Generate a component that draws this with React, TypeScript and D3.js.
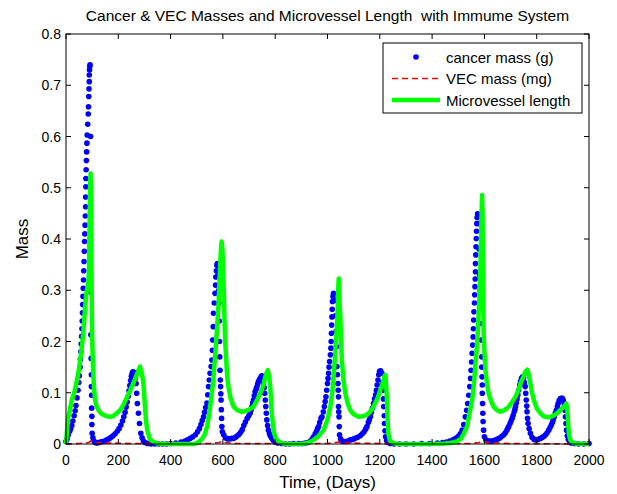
import { useEffect, useRef } from 'react';
import * as d3 from 'd3';

// [time (days), mass]
const cancerMass: [number, number][] = [
  [0, 0.005], [4, 0.01], [9, 0.018], [14, 0.025], [18, 0.03], [22, 0.036], [26, 0.045], [31, 0.055],
  [35, 0.065], [38, 0.075], [42, 0.09], [46, 0.105], [49, 0.12], [51, 0.133], [54, 0.15], [55, 0.165],
  [57, 0.18], [58, 0.195], [60, 0.21], [61, 0.225], [62, 0.24], [63, 0.256], [64, 0.272], [65, 0.288],
  [66, 0.304], [67, 0.32], [68, 0.338], [69, 0.356], [70, 0.376], [71, 0.395], [72, 0.41], [73, 0.427],
  [74, 0.445], [75, 0.463], [75, 0.482], [76, 0.502], [76, 0.518], [77, 0.535], [78, 0.553], [79, 0.57],
  [80, 0.587], [81, 0.603], [83, 0.624], [85, 0.644], [86, 0.658], [87, 0.678], [88, 0.693], [89, 0.707],
  [89, 0.72], [90, 0.73], [91, 0.737], [92, 0.74],
  [94, 0.6], [94, 0.5], [94, 0.4], [94.5, 0.297], [95, 0.213], [96, 0.167], [97, 0.135], [97, 0.112],
  [98, 0.095], [98, 0.07], [99, 0.054], [99, 0.038], [100, 0.021], [103, 0.012], [107, 0.006], [112, 0.003],
  [118, 0.002], [125, 0.003], [132, 0.004], [140, 0.005], [148, 0.006], [156, 0.008], [164, 0.01], [172, 0.013],
  [180, 0.016], [188, 0.02], [196, 0.025], [203, 0.03], [210, 0.037], [216, 0.045], [221, 0.053], [226, 0.062],
  [230, 0.072], [234, 0.082], [238, 0.093], [241, 0.104], [244, 0.114], [247, 0.124], [250, 0.132], [253, 0.138],
  [256, 0.141], [259, 0.14], [262, 0.138], [265, 0.128], [268, 0.118], [270, 0.099], [273, 0.079], [277, 0.06],
  [281, 0.04], [286, 0.021], [291, 0.012], [296, 0.006], [303, 0.003], [312, 0.001], [325, 0], [340, 0],
  [355, 0], [370, 0], [385, 0], [400, 0.001], [420, 0.002], [440, 0.004], [455, 0.006], [465, 0.008],
  [475, 0.011], [485, 0.014], [495, 0.018], [503, 0.024], [510, 0.03], [516, 0.038], [521, 0.046], [526, 0.053],
  [530, 0.062], [534, 0.071], [539, 0.08], [542, 0.096], [545, 0.112], [548, 0.125], [551, 0.138], [555, 0.151],
  [558, 0.164], [560, 0.183], [561, 0.203], [563, 0.229], [564, 0.255], [567, 0.275], [570, 0.294], [572, 0.31],
  [573, 0.326], [575, 0.338], [577, 0.349], [579, 0.352],
  [582, 0.33], [584, 0.3], [585, 0.275], [586, 0.24], [587, 0.2], [588, 0.17], [589, 0.144], [590, 0.125],
  [591, 0.112], [592, 0.098], [593, 0.086], [594, 0.067], [595, 0.05], [596, 0.034], [598, 0.024], [603, 0.018],
  [610, 0.012], [618, 0.01], [626, 0.01], [634, 0.011], [641, 0.011], [648, 0.013], [655, 0.016], [662, 0.019],
  [668, 0.023], [674, 0.028], [680, 0.036], [686, 0.043], [693, 0.05], [699, 0.055], [704, 0.06], [708, 0.067],
  [711, 0.073], [714, 0.08], [717, 0.086], [720, 0.094], [723, 0.102], [727, 0.107], [730, 0.112], [733, 0.117],
  [736, 0.122], [740, 0.126], [743, 0.128], [746, 0.131], [749, 0.133], [752, 0.128], [755, 0.119], [758, 0.11],
  [760, 0.099], [762, 0.086], [764, 0.073], [766, 0.06], [768, 0.047], [771, 0.036], [774, 0.027], [778, 0.02],
  [782, 0.015], [787, 0.011], [793, 0.007], [800, 0.004], [810, 0.002], [825, 0.001], [840, 0], [855, 0],
  [870, 0.001], [890, 0.001], [905, 0.001], [915, 0.002], [925, 0.003], [935, 0.006], [942, 0.01], [947, 0.014],
  [953, 0.02], [958, 0.025], [962, 0.03], [966, 0.034], [970, 0.042], [975, 0.05], [979, 0.053], [984, 0.063],
  [988, 0.073], [991, 0.083], [994, 0.092], [997, 0.105], [1000, 0.118], [1002, 0.128], [1004, 0.138], [1006, 0.15],
  [1008, 0.161], [1011, 0.174], [1013, 0.187], [1014, 0.2], [1015, 0.216], [1016, 0.232], [1017, 0.248], [1018, 0.263],
  [1019, 0.278], [1021, 0.288], [1023, 0.294],
  [1029, 0.28], [1031, 0.25], [1033, 0.22], [1034, 0.19], [1036, 0.151], [1038, 0.135], [1040, 0.118], [1041, 0.105],
  [1042, 0.092], [1042, 0.073], [1043, 0.063], [1044, 0.053], [1045, 0.034], [1046, 0.018], [1050, 0.01], [1055, 0.006],
  [1062, 0.005], [1070, 0.005], [1078, 0.006], [1087, 0.008], [1096, 0.009], [1105, 0.011], [1115, 0.013], [1125, 0.016],
  [1133, 0.02], [1140, 0.024], [1146, 0.029], [1151, 0.034], [1156, 0.042], [1160, 0.047], [1164, 0.053], [1168, 0.062],
  [1172, 0.07], [1176, 0.079], [1180, 0.088], [1184, 0.096], [1187, 0.105], [1190, 0.115], [1193, 0.125], [1196, 0.135],
  [1199, 0.142], [1203, 0.143], [1208, 0.138], [1210, 0.12], [1212, 0.105], [1214, 0.088], [1215, 0.073], [1217, 0.055],
  [1218, 0.04], [1220, 0.026], [1222, 0.014], [1226, 0.007], [1232, 0.003], [1240, 0.001], [1255, 0], [1275, 0],
  [1300, 0], [1330, 0], [1360, 0.001], [1390, 0.001], [1420, 0.002], [1440, 0.003], [1455, 0.004], [1468, 0.006],
  [1480, 0.008], [1490, 0.011], [1500, 0.015], [1508, 0.02], [1515, 0.027], [1521, 0.038], [1527, 0.053], [1532, 0.066],
  [1536, 0.079], [1540, 0.095], [1544, 0.112], [1547, 0.128], [1549, 0.144], [1551, 0.16], [1553, 0.177], [1555, 0.193],
  [1557, 0.209], [1558, 0.225], [1559, 0.242], [1560, 0.258], [1562, 0.275], [1563, 0.291], [1564, 0.307], [1565, 0.322],
  [1566, 0.336], [1566, 0.352], [1567, 0.369], [1568, 0.385], [1569, 0.401], [1570, 0.415], [1571, 0.43], [1572, 0.442],
  [1574, 0.449],
  [1578, 0.43], [1580, 0.38], [1582, 0.33], [1584, 0.3], [1586, 0.268], [1587, 0.235], [1588, 0.203], [1590, 0.17],
  [1590, 0.15], [1591, 0.131], [1592, 0.115], [1592, 0.099], [1593, 0.079], [1594, 0.06], [1595, 0.044], [1597, 0.027],
  [1600, 0.014], [1606, 0.008], [1614, 0.006], [1622, 0.006], [1630, 0.006], [1638, 0.007], [1645, 0.008], [1652, 0.01],
  [1660, 0.012], [1667, 0.015], [1674, 0.018], [1680, 0.022], [1686, 0.027], [1690, 0.031], [1693, 0.034], [1698, 0.04],
  [1702, 0.045], [1706, 0.05], [1710, 0.056], [1714, 0.063], [1717, 0.068], [1719, 0.073], [1722, 0.08], [1725, 0.088],
  [1728, 0.096], [1731, 0.105], [1735, 0.115], [1738, 0.122], [1742, 0.128], [1746, 0.131], [1750, 0.129], [1753, 0.12],
  [1756, 0.112], [1758, 0.099], [1760, 0.086], [1762, 0.074], [1763, 0.063], [1765, 0.05], [1767, 0.04], [1771, 0.03],
  [1776, 0.021], [1782, 0.013], [1790, 0.009], [1798, 0.008], [1806, 0.009], [1815, 0.011], [1822, 0.013], [1828, 0.015],
  [1834, 0.018], [1840, 0.022], [1846, 0.027], [1851, 0.032], [1856, 0.037], [1860, 0.042], [1863, 0.047], [1867, 0.053],
  [1871, 0.06], [1875, 0.066], [1879, 0.073], [1882, 0.079], [1886, 0.085], [1890, 0.088], [1894, 0.089], [1898, 0.089],
  [1902, 0.085], [1905, 0.079], [1908, 0.066], [1910, 0.053], [1912, 0.04], [1914, 0.027], [1917, 0.016], [1921, 0.009],
  [1926, 0.004], [1932, 0.002], [1945, 0.001], [1960, 0], [1980, 0], [2000, 0.001],
];

const vecMass: [number, number][] = [
  [0, 0], [50, 0.001], [80, 0.002], [90, 0.004], [95, 0.006], [100, 0.005], [110, 0.003], [150, 0.002],
  [250, 0.001], [300, 0.001], [400, 0], [550, 0.001], [585, 0.003], [595, 0.005], [605, 0.003], [650, 0.001],
  [800, 0.001], [1000, 0.001], [1030, 0.003], [1045, 0.004], [1060, 0.002], [1200, 0.001], [1300, 0],
  [1550, 0.001], [1580, 0.003], [1595, 0.006], [1610, 0.003], [1700, 0.001], [2000, 0],
];

const microvesselLength: [number, number][] = [
  [0, 0], [3, 0.02], [6, 0.04], [9, 0.053], [14, 0.065], [18, 0.075], [22, 0.086], [28, 0.095],
  [34, 0.105], [40, 0.12], [47, 0.138], [52, 0.155], [56, 0.17], [61, 0.192], [66, 0.216], [70, 0.243],
  [73, 0.268], [77, 0.29], [82, 0.307], [86, 0.318], [88, 0.34], [90, 0.42], [92, 0.5], [94, 0.528],
  [96, 0.48], [97, 0.4], [98, 0.32], [99, 0.26], [100, 0.21], [102, 0.17], [104, 0.14], [107, 0.11],
  [111, 0.086], [117, 0.074], [124, 0.066], [133, 0.06], [143, 0.057], [155, 0.054], [168, 0.053], [180, 0.054],
  [194, 0.06], [207, 0.066], [220, 0.077], [232, 0.09], [245, 0.104], [258, 0.119], [268, 0.132], [277, 0.144],
  [283, 0.151], [289, 0.14], [296, 0.119], [302, 0.073], [306, 0.045], [311, 0.027], [320, 0.01], [334, 0.004],
  [350, 0.001], [400, 0], [450, 0], [490, 0], [500, 0.002], [510, 0.005], [520, 0.01], [530, 0.018],
  [540, 0.035], [548, 0.06], [558, 0.1], [564, 0.13], [570, 0.17], [577, 0.22], [583, 0.27], [588, 0.33],
  [592, 0.375], [595, 0.395], [598, 0.38], [601, 0.34], [604, 0.29], [606, 0.242], [609, 0.2], [612, 0.17],
  [616, 0.135], [621, 0.112], [630, 0.088], [641, 0.073], [655, 0.066], [670, 0.063], [685, 0.064], [700, 0.067],
  [717, 0.073], [730, 0.085], [743, 0.099], [755, 0.115], [762, 0.131], [768, 0.14], [772, 0.144], [777, 0.13],
  [781, 0.112], [784, 0.085], [787, 0.06], [791, 0.04], [796, 0.021], [803, 0.01], [813, 0.005], [830, 0.001],
  [850, 0], [900, 0], [930, 0.003], [947, 0.008], [965, 0.015], [985, 0.027], [1000, 0.048], [1011, 0.073],
  [1018, 0.1], [1023, 0.131], [1028, 0.165], [1032, 0.196], [1036, 0.23], [1039, 0.261], [1041, 0.3], [1043, 0.323],
  [1045, 0.3], [1047, 0.27], [1049, 0.248], [1052, 0.2], [1055, 0.164], [1060, 0.13], [1068, 0.099], [1077, 0.08],
  [1087, 0.066], [1100, 0.058], [1119, 0.053], [1135, 0.054], [1151, 0.057], [1165, 0.064], [1176, 0.073], [1190, 0.088],
  [1202, 0.105], [1212, 0.12], [1218, 0.133], [1221, 0.135], [1224, 0.12], [1226, 0.1], [1228, 0.075], [1230, 0.045],
  [1233, 0.02], [1238, 0.007], [1250, 0.002], [1270, 0], [1400, 0], [1450, 0.001], [1470, 0.002], [1495, 0.005],
  [1510, 0.01], [1521, 0.02], [1534, 0.035], [1543, 0.06], [1553, 0.085], [1560, 0.118], [1566, 0.157], [1571, 0.19],
  [1575, 0.222], [1581, 0.287], [1585, 0.353], [1588, 0.42], [1591, 0.486], [1593, 0.45], [1594, 0.38], [1596, 0.3],
  [1597, 0.222], [1600, 0.18], [1604, 0.144], [1610, 0.118], [1616, 0.099], [1625, 0.085], [1635, 0.073], [1648, 0.066],
  [1661, 0.063], [1677, 0.066], [1693, 0.073], [1706, 0.082], [1719, 0.092], [1730, 0.105], [1738, 0.118], [1748, 0.13],
  [1757, 0.141], [1764, 0.145], [1770, 0.135], [1776, 0.118], [1782, 0.1], [1789, 0.086], [1800, 0.07], [1814, 0.06],
  [1830, 0.053], [1846, 0.052], [1862, 0.055], [1878, 0.06], [1892, 0.067], [1904, 0.073], [1913, 0.079], [1916, 0.07],
  [1919, 0.053], [1921, 0.035], [1923, 0.021], [1928, 0.008], [1936, 0.003], [1950, 0.001], [2000, 0],
];

const xTicks = [0, 200, 400, 600, 800, 1000, 1200, 1400, 1600, 1800, 2000];
const yTicks = [0, 0.1, 0.2, 0.3, 0.4, 0.5, 0.6, 0.7, 0.8];
const legendLabels = ['cancer mass (g)', 'VEC mass (mg)', 'Microvessel length'];

const FONT = 'Liberation Sans, Arial, Helvetica, sans-serif';

export default function App() {
  const svgRef = useRef<SVGSVGElement | null>(null);

  useEffect(() => {
    if (!svgRef.current) return;
    const svg = d3.select(svgRef.current);
    svg.selectAll('*').remove();

    const width = 617;
    const height = 494;
    const margin = { top: 34, right: 28, bottom: 50, left: 66 };
    const w = width - margin.left - margin.right;
    const h = height - margin.top - margin.bottom;

    svg.append('rect').attr('width', width).attr('height', height).attr('fill', '#fff');

    const g = svg.append('g').attr('transform', `translate(${margin.left},${margin.top})`);

    const x = d3.scaleLinear().domain([0, 2000]).range([0, w]);
    const y = d3.scaleLinear().domain([0, 0.8]).range([h, 0]);

    // data
    g.append('g')
      .selectAll('circle')
      .data(cancerMass)
      .join('circle')
      .attr('cx', (d) => x(d[0]))
      .attr('cy', (d) => y(d[1]))
      .attr('r', 2.8)
      .attr('fill', '#0000ff');

    const line = d3.line<[number, number]>().x((d) => x(d[0])).y((d) => y(d[1]));

    g.append('path')
      .attr('d', line(vecMass))
      .attr('fill', 'none')
      .attr('stroke', '#ff0000')
      .attr('stroke-width', 1.6)
      .attr('stroke-dasharray', '6,4');

    g.append('path')
      .attr('d', line(microvesselLength))
      .attr('fill', 'none')
      .attr('stroke', '#00ff00')
      .attr('stroke-width', 4.5)
      .attr('stroke-linejoin', 'round');

    // box + inward ticks
    g.append('rect')
      .attr('width', w).attr('height', h)
      .attr('fill', 'none').attr('stroke', '#000').attr('stroke-width', 1);

    const tl = 5;
    xTicks.forEach((t) => {
      g.append('line').attr('x1', x(t)).attr('x2', x(t)).attr('y1', h).attr('y2', h - tl).attr('stroke', '#000');
      g.append('line').attr('x1', x(t)).attr('x2', x(t)).attr('y1', 0).attr('y2', tl).attr('stroke', '#000');
      g.append('text')
        .attr('x', x(t)).attr('y', h + 21)
        .attr('text-anchor', 'middle')
        .attr('font-family', FONT).attr('font-size', 14)
        .text(String(t));
    });
    yTicks.forEach((t) => {
      g.append('line').attr('x1', 0).attr('x2', tl).attr('y1', y(t)).attr('y2', y(t)).attr('stroke', '#000');
      g.append('line').attr('x1', w).attr('x2', w - tl).attr('y1', y(t)).attr('y2', y(t)).attr('stroke', '#000');
      g.append('text')
        .attr('x', -5).attr('y', y(t) + 5)
        .attr('text-anchor', 'end')
        .attr('font-family', FONT).attr('font-size', 14)
        .text(t === 0 ? '0' : d3.format('.1f')(t));
    });

    // labels
    svg.append('text')
      .attr('x', margin.left + w / 2).attr('y', 21)
      .attr('text-anchor', 'middle')
      .attr('font-family', FONT).attr('font-size', 15.5)
      .attr('xml:space', 'preserve')
      .text('Cancer & VEC Masses and Microvessel Length  with Immume System');

    svg.append('text')
      .attr('x', margin.left + w / 2).attr('y', 488)
      .attr('text-anchor', 'middle')
      .attr('font-family', FONT).attr('font-size', 17)
      .text('Time, (Days)');

    svg.append('text')
      .attr('transform', `translate(28,${margin.top + h / 2}) rotate(-90)`)
      .attr('text-anchor', 'middle')
      .attr('font-family', FONT).attr('font-size', 17)
      .text('Mass');

    // legend
    const lg = svg.append('g').attr('transform', 'translate(383,43)');
    lg.append('rect').attr('width', 199).attr('height', 70)
      .attr('fill', '#fff').attr('stroke', '#000').attr('stroke-width', 1);
    const rows = [14, 35.5, 57];
    lg.append('circle').attr('cx', 33).attr('cy', rows[0]).attr('r', 2.8).attr('fill', '#0000ff');
    lg.append('line').attr('x1', 9).attr('x2', 57).attr('y1', rows[1]).attr('y2', rows[1])
      .attr('stroke', '#ff0000').attr('stroke-width', 1.6).attr('stroke-dasharray', '6,4');
    lg.append('line').attr('x1', 9).attr('x2', 57).attr('y1', rows[2]).attr('y2', rows[2])
      .attr('stroke', '#00ff00').attr('stroke-width', 4.5);
    legendLabels.forEach((l, i) => {
      lg.append('text')
        .attr('x', 63).attr('y', rows[i] + 5.5)
        .attr('font-family', FONT).attr('font-size', 15)
        .text(l);
    });
  }, []);

  return (
    <svg
      ref={svgRef}
      width={617}
      height={494}
      style={{ position: 'absolute', left: 0, top: 0, display: 'block' }}
    />
  );
}
